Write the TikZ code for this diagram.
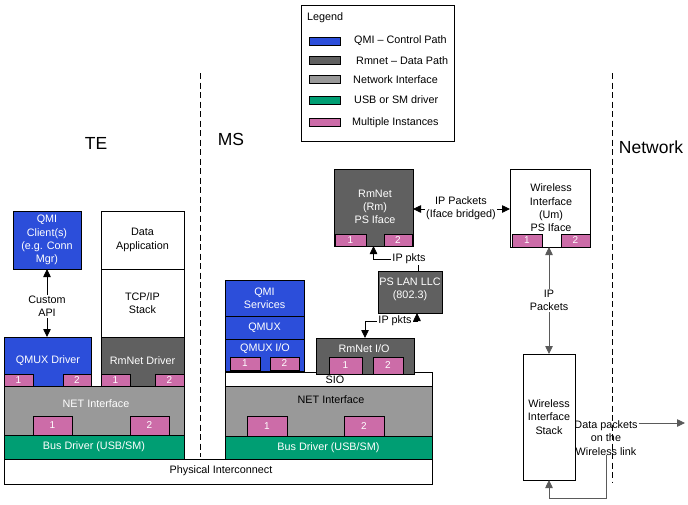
\documentclass[tikz,border=0pt]{standalone}
\usepackage{fontspec}
\setmainfont{Liberation Sans}
\usetikzlibrary{arrows.meta,calc}
\definecolor{qblue}{RGB}{44,78,218}
\definecolor{rmgray}{RGB}{96,96,96}
\definecolor{nigray}{RGB}{153,153,153}
\definecolor{usbgreen}{RGB}{0,158,115}
\definecolor{pinkc}{RGB}{204,108,168}
\definecolor{linegray}{RGB}{90,90,90}
\tikzset{
  bx/.style={draw=black, line width=0.7pt, inner sep=0pt, outer sep=0pt, anchor=north west, align=center,
    font=\fontsize{10.8}{13.3}\selectfont},
  txt/.style={inner sep=0pt, align=center, font=\fontsize{10.8}{13.3}\selectfont},
  lbl/.style={txt, fill=white, inner sep=1pt},
  ttl/.style={inner sep=0pt, font=\fontsize{17.5}{20}\selectfont},
  pk/.style={fill=pinkc, text=white, font=\fontsize{10}{11}\selectfont},
  dsh/.style={line width=0.8pt, dash pattern=on 6pt off 3.5pt},
  conn/.style={line width=0.8pt, draw=black},
  gconn/.style={line width=0.8pt, draw=linegray},
  tip/.style={-{Triangle[length=8pt,width=7.5pt]}},
  tips/.style={{Triangle[length=8pt,width=7.5pt]}-{Triangle[length=8pt,width=7.5pt]}},
}
\newcommand\fbx[7]{\node[bx,#6,minimum width={(#4-#2)*1pt},minimum height={(#5-#3)*1pt}] (#1) at (#2,#3) {#7};}
\begin{document}
\begin{tikzpicture}[x=1pt,y=-1pt]
\useasboundingbox[fill=white] (0,0) rectangle (688,504);

% legend
\fbx{legend}{301}{5}{454}{141}{fill=white}{}
\node[txt,anchor=west] (legT) at (307,18) {Legend};
\fbx{sw1}{309}{37}{340}{45}{fill=qblue}{}
\node[txt,anchor=west] (lg1) at (354,41) {QMI – Control Path};
\fbx{sw2}{309}{56}{340}{64}{fill=rmgray}{}
\node[txt,anchor=west] (lg2) at (356,61) {Rmnet – Data Path};
\fbx{sw3}{309}{75}{340}{83}{fill=nigray}{}
\node[txt,anchor=west] (lg3) at (353,80) {Network Interface};
\fbx{sw4}{309}{96}{340}{104}{fill=usbgreen}{}
\node[txt,anchor=west] (lg4) at (354,100) {USB or SM driver};
\fbx{sw5}{309}{118}{340}{126}{fill=pinkc}{}
\node[txt,anchor=west] (lg5) at (352,123) {Multiple Instances};

% dashed separators
\coordinate (d1t) at (200,73); \coordinate (d1b) at (200,457);
\coordinate (d2t) at (612,73); \coordinate (d2b) at (612,483);
\draw[dsh] (d1t) -- (d1b);
\draw[dsh] (d2t) -- (d2b);

% titles
\node[ttl] (te) at (96,143) {TE};
\node[ttl] (ms) at (231,139) {MS};
\node[ttl] (net) at (651,147) {Network};

% physical interconnect
\fbx{phys}{4}{459}{432}{484}{fill=white}{}
\node[txt] (physT) at (221,471) {Physical Interconnect};

% left stack (TE)
\fbx{qmic}{13}{211}{81}{269}{fill=qblue,text=white}{QMI\\Client(s)\\(e.g. Conn\\Mgr)}
\fbx{dapp}{101}{211}{184}{269}{fill=white}{Data\\Application}
\fbx{tcp}{101}{269}{184}{337}{fill=white}{TCP/IP\\Stack}
\fbx{rmdrv}{101}{337}{184}{386}{fill=rmgray}{}
\node[txt,text=white] (rmdrvT) at (142.5,361) {RmNet Driver};
\fbx{p1}{101}{374}{130}{386}{pk}{1}
\fbx{p2}{155}{374}{184}{386}{pk}{2}
\fbx{qmuxd}{4}{337}{91}{386}{fill=qblue}{}
\node[txt,text=white] (qmuxdT) at (48,361) {QMUX Driver};
\fbx{p3}{4}{374}{33}{386}{pk}{1}
\fbx{p4}{63}{374}{91}{386}{pk}{2}
\fbx{netL}{4}{386}{184}{435}{fill=nigray}{}
\node[txt,text=white] (netLT) at (96,404) {NET Interface};
\fbx{p5}{33}{416}{72}{435}{pk}{1}
\fbx{p6}{130}{416}{169}{435}{pk}{2}
\fbx{busL}{4}{435}{184}{459}{fill=usbgreen,text=white}{Bus Driver (USB/SM)}

\draw[conn,tips] (qmic.south) -- node[lbl,pos=0.55] (capi) {Custom\\API} (qmic.south |- qmuxd.north);

% middle stack (MS)
\fbx{qmis}{225}{280}{304}{316}{fill=qblue,text=white}{QMI\\Services}
\fbx{qmux}{225}{316}{304}{339}{fill=qblue,text=white}{QMUX}
\fbx{qmuxio}{225}{339}{304}{371}{fill=qblue}{}
\node[txt,text=white] (qmuxioT) at (265,349) {QMUX I/O};
\fbx{p7}{230}{357}{260}{370}{pk}{1}
\fbx{p8}{270}{357}{299}{370}{pk}{2}
\fbx{sio}{225}{372}{432}{386}{fill=white}{}
\node[txt] (sioT) at (335,380) {SIO};
\fbx{rmio}{316}{338}{414}{374}{fill=rmgray}{}
\node[txt,text=white] (rmioT) at (364,349) {RmNet I/O};
\fbx{p9}{329}{357}{362}{374}{pk}{1}
\fbx{p10}{373}{357}{403}{374}{pk}{2}
\fbx{netM}{225}{386}{432}{436}{fill=nigray}{}
\node[txt] (netMT) at (331,400) {NET Interface};
\fbx{p11}{247}{416}{287}{436}{pk}{1}
\fbx{p12}{344}{416}{384}{436}{pk}{2}
\fbx{busM}{225}{436}{432}{459}{fill=usbgreen,text=white}{Bus Driver (USB/SM)}

% RmNet PS Iface and LLC
\fbx{rmps}{334}{169}{413}{246}{fill=rmgray}{}
\node[txt,text=white] (rmpsT) at (375,207) {RmNet\\(Rm)\\PS Iface};
\fbx{p13}{335}{234}{366}{246}{pk}{1}
\fbx{p14}{384}{234}{412}{246}{pk}{2}
\fbx{llc}{378}{271}{442}{313}{fill=rmgray}{}
\node[txt,text=white] (llcT) at (410,289) {PS LAN LLC\\(802.3)};

% wireless interface
\fbx{wi}{510}{169}{590}{247}{fill=white}{}
\node[txt] (wiT) at (551,208) {Wireless\\Interface\\(Um)\\PS Iface};
\fbx{p15}{512}{234}{542}{247}{pk}{1}
\fbx{p16}{561}{234}{590}{247}{pk}{2}
\fbx{wis}{523}{354}{575}{480}{fill=white}{Wireless\\Interface\\Stack}

% connectors
\coordinate (ipy) at (0,209);
\draw[conn,tips] (rmps.east |- ipy) -- (wi.west |- ipy);
\node[lbl] (ipb) at (461,208.5) {IP Packets\\(Iface bridged)};

\coordinate (ipu) at (0,259);
\coordinate (llcN) at ($(llc.north)+(8,0)$);
\draw[conn,tip] (llcN) |- (rmps.south |- ipu) -- (rmps.south);
\node[lbl] (ipk1) at (409,259) {IP pkts};

\coordinate (ipl) at (0,321);
\coordinate (llcS) at ($(llc.south)+(7,0)$);
\draw[conn,tips] (llcS) |- (rmio.north |- ipl) -- (rmio.north);
\node[lbl] (ipk2) at (395,321) {IP pkts};

\draw[gconn,tips] (wis.north |- wi.south) -- node[lbl] (ipv) {IP\\Packets} (wis.north);

\node[txt] (dpk) at (606,438) {Data packets\\on the\\Wireless link};
\coordinate (bot) at (0,498);
\coordinate (dpkE) at (685,423);
\draw[gconn,tip] (dpk.south) -- (dpk.south |- bot) -| (wis.south);
\draw[gconn,tip] ($(dpk.east |- dpkE)+(1,0)$) -- (dpkE);
\end{tikzpicture}
\end{document}
